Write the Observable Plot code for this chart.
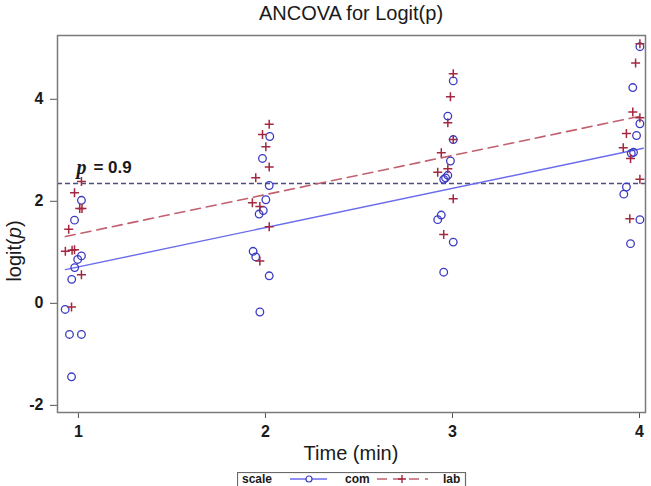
<!DOCTYPE html>
<html>
<head>
<meta charset="utf-8">
<script src="https://cdn.jsdelivr.net/npm/d3@7"></script>
<script src="https://cdn.jsdelivr.net/npm/@observablehq/plot@0.6"></script>
<style>
  html, body { margin: 0; padding: 0; background: #fff; }
  #wrap { width: 651px; height: 486px; overflow: hidden; position: relative; }
  #title { height: 31px; padding-top: 2px; line-height: 31px; padding-left: 51px; text-align: center;
           font: 20px "Liberation Sans", Arial, sans-serif; color: #1a1a1a; }
  #chart svg { display: block; }
  #legend { margin-left: 237px; margin-top: 4px; display: block; }
</style>
</head>
<body>
<div id="wrap">
  <div id="title">ANCOVA for Logit(p)</div>
  <div id="chart"></div>
  <svg id="legend" width="240" height="18"></svg>
</div>
<script>
// ---- data ----
const comTime  = [1.016, 0.979, 1.016, 0.996, 0.980, 0.964, 0.929, 0.952, 1.016, 0.963,
                  2.023, 1.984, 2.020, 2.002, 1.988, 1.966, 1.934, 1.948, 2.020, 1.970,
                  3.004, 2.975, 3.004, 2.989, 2.975, 2.963, 2.953, 2.940, 2.921, 3.004, 2.953,
                  4.002, 3.964, 4.002, 3.984, 3.956, 3.968, 3.930, 3.916, 4.002, 3.952];
const comLogit = [2.02, 1.63, 0.93, 0.86, 0.70, 0.47, -0.12, -0.61, -0.61, -1.44,
                  3.27, 2.84, 2.31, 2.03, 1.82, 1.75, 1.02, 0.91, 0.54, -0.17,
                  4.36, 3.67, 3.21, 2.79, 2.51, 2.46, 2.43, 1.73, 1.64, 1.20, 0.61,
                  5.03, 4.23, 3.52, 3.29, 2.94, 2.96, 2.28, 2.14, 1.64, 1.17];
const labTime  = [1.016, 0.979, 1.007, 1.019, 0.948, 0.930, 0.966, 0.979, 1.016, 0.963,
                  2.020, 1.984, 2.002, 2.020, 1.948, 1.930, 1.970, 2.020, 1.970,
                  3.004, 2.989, 2.975, 3.004, 2.940, 2.975, 2.921, 3.004, 2.953,
                  4.002, 3.979, 3.964, 4.002, 3.930, 3.913, 3.952, 4.002, 3.948];
const labLogit = [2.39, 2.17, 1.86, 1.86, 1.45, 1.02, 1.04, 1.05, 0.56, -0.07,
                  3.51, 3.31, 3.07, 2.67, 2.46, 1.97, 1.90, 1.50, 0.83,
                  4.50, 4.05, 3.54, 3.21, 2.95, 2.64, 2.57, 2.05, 1.35,
                  5.09, 4.71, 3.75, 3.64, 3.33, 3.05, 2.84, 2.43, 1.66];
const fitTime  = [0.93, 4.02];
const comFit   = [0.66, 3.04];
const labFit   = [1.31, 3.68];
const refLogit = [2.35];          // p = 0.9 reference line
const annotTime = [1];
const xTicks = [1, 2, 3, 4];
const yTicks = [-2, 0, 2, 4];
const xDomain = [0.888, 4.032];
const yDomain = [-2.14, 5.25];
const seriesNames = ["com", "lab"];

// ---- colours ----
const comDot = "#3a3ac4", comLine = "#6b6bee";
const labDot = "#a3283f", labLine = "#c2606f";
const refColor = "#4d4d80";

const plusSymbol = {
  draw(ctx, size) {
    const r = Math.sqrt(size / Math.PI);
    ctx.moveTo(-r, 0); ctx.lineTo(r, 0);
    ctx.moveTo(0, -r); ctx.lineTo(0, r);
  }
};

const comRows = comTime.map((t, i) => ({t, v: comLogit[i]}));
const labRows = labTime.map((t, i) => ({t, v: labLogit[i]}));
const comFitRows = fitTime.map((t, i) => ({t, v: comFit[i]}));
const labFitRows = fitTime.map((t, i) => ({t, v: labFit[i]}));
const annotRows = annotTime.map((t, i) => ({t, v: refLogit[i]}));

const plot = Plot.plot({
  width: 651,
  height: 435,
  marginLeft: 57,
  marginRight: 6,
  marginTop: 2,
  marginBottom: 56,
  style: {fontFamily: "'Liberation Sans', Arial, sans-serif", fontSize: "16px", fontWeight: "bold", color: "#1a1a1a", background: "white"},
  x: {domain: xDomain},
  y: {domain: yDomain},
  marks: [
    Plot.axisX({ticks: xTicks, tickSize: 6, tickPadding: 7, stroke: "#555", tickFormat: d => String(d), label: null}),
    Plot.axisY({ticks: yTicks, tickSize: 7, tickPadding: 7, stroke: "#555", tickFormat: d => String(d), label: null}),
    Plot.ruleY(refLogit, {stroke: refColor, strokeWidth: 1.4, strokeDasharray: "5,3"}),
    Plot.line(comFitRows, {x: "t", y: "v", stroke: comLine, strokeWidth: 1.4}),
    Plot.line(labFitRows, {x: "t", y: "v", stroke: labLine, strokeWidth: 1.6, strokeDasharray: "10,6"}),
    Plot.dot(comRows, {x: "t", y: "v", r: 3.8, stroke: comDot, strokeWidth: 1.3, fill: "none"}),
    Plot.dot(labRows, {x: "t", y: "v", r: 4.5, symbol: plusSymbol, stroke: labDot, strokeWidth: 1.5, fill: "none"}),
    Plot.text(annotRows, {x: "t", y: "v", text: () => "p", textAnchor: "start", lineAnchor: "middle", dx: -2, dy: -16,
      fontFamily: "'Liberation Serif', 'Times New Roman', serif", fontStyle: "italic", fontWeight: "bold", fontSize: 20, fill: "#1a1a1a"}),
    Plot.text(annotRows, {x: "t", y: "v", text: () => "= 0.9", textAnchor: "start", lineAnchor: "middle", dx: 15, dy: -16,
      fontWeight: "bold", fontSize: 17, fill: "#1a1a1a"}),
    Plot.frame({stroke: "#7a7a7a", strokeWidth: 1.5})
  ]
});
document.getElementById("chart").appendChild(plot);

// axis labels
const svg = d3.select(plot);
const yl = svg.append("text")
  .attr("transform", "translate(21,218) rotate(-90)")
  .attr("text-anchor", "middle")
  .style("font", "normal 20px 'Liberation Sans', Arial, sans-serif")
  .attr("fill", "#1a1a1a");
yl.append("tspan").text("logit(");
yl.append("tspan").style("font-style", "italic").text("p");
yl.append("tspan").text(")");
svg.append("text")
  .attr("x", (57 + 645) / 2).attr("y", 427)
  .attr("text-anchor", "middle")
  .style("font", "normal 20px 'Liberation Sans', Arial, sans-serif")
  .attr("fill", "#1a1a1a")
  .text("Time (min)");

// legend
const lg = d3.select("#legend");
lg.append("rect").attr("x", 0.5).attr("y", 0.5).attr("width", 228).attr("height", 22)
  .attr("fill", "white").attr("stroke", "#6a6a6a").attr("stroke-width", 1.2);
const lf = "bold 12px 'Liberation Sans', Arial, sans-serif";
lg.append("text").attr("x", 5).attr("y", 11).style("font", lf).attr("fill", "#1a1a1a").text("scale");
lg.append("line").attr("x1", 53).attr("x2", 90).attr("y1", 7).attr("y2", 7).attr("stroke", comLine).attr("stroke-width", 1.4);
lg.append("circle").attr("cx", 72).attr("cy", 7).attr("r", 3).attr("fill", "white").attr("stroke", comDot).attr("stroke-width", 1.2);
lg.append("text").attr("x", 108).attr("y", 11).style("font", lf).attr("fill", "#1a1a1a").text(seriesNames[0]);
lg.append("line").attr("x1", 140).attr("x2", 191).attr("y1", 7).attr("y2", 7).attr("stroke", labLine).attr("stroke-width", 1.5).attr("stroke-dasharray", "10,6");
lg.append("path").attr("d", "M161,7h8M165,3v8").attr("stroke", labDot).attr("stroke-width", 1.4);
lg.append("text").attr("x", 206).attr("y", 11).style("font", lf).attr("fill", "#1a1a1a").text(seriesNames[1]);
</script>
</body>
</html>
